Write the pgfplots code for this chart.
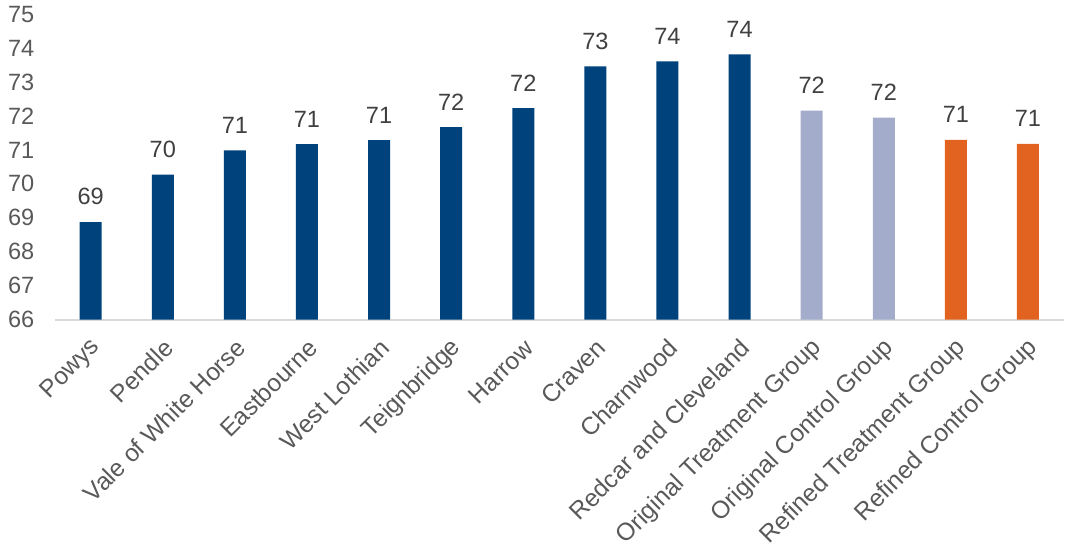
\documentclass[border=0pt]{standalone}
\usepackage{fontspec}
\setmainfont{Liberation Sans}
\usepackage{pgfplots}
\pgfplotsset{compat=1.18}
\definecolor{dblue}{HTML}{00427B}
\definecolor{lpurp}{HTML}{A3ADCB}
\definecolor{orng}{HTML}{E2621F}
\definecolor{tickc}{HTML}{595959}
\definecolor{labc}{HTML}{404040}
\definecolor{axc}{HTML}{D9D9D9}
\begin{document}
\begin{tikzpicture}
\begin{axis}[
  scale only axis,
  width=504bp, height=152.5bp,
  ybar, bar width=11bp,
  xmin=-0.5, xmax=13.5,
  ymin=66, ymax=75,
  ytick={66,67,...,75},
  xtick={0,...,13},
  xticklabels={Powys,Pendle,Vale of White Horse,Eastbourne,West Lothian,Teignbridge,Harrow,Craven,Charnwood,Redcar and Cleveland,Original Treatment Group,Original Control Group,Refined Treatment Group,Refined Control Group},
  xticklabel style={xshift=3bp, yshift=-12bp, rotate=45, anchor=east, font=\fontsize{12.3}{14}\selectfont, text=tickc, inner sep=0pt},
  yticklabel style={font=\fontsize{11.8}{13}\selectfont, text=tickc, inner sep=0pt, xshift=-10bp},
  /pgf/number format/assume math mode=true,
  major tick length=0pt,
  axis x line*=bottom,
  axis y line*=left,
  y axis line style={draw=none},
  x axis line style={draw=axc, line width=1pt},
  ytick style={draw=none}, xtick style={draw=none},
  nodes near coords,
  nodes near coords style={font=\fontsize{11.8}{13}\selectfont, text=labc, /pgf/number format/fixed, /pgf/number format/precision=0, yshift=5bp},
  clip=false,
]
\addplot[fill=dblue, draw=none, bar shift=0pt] coordinates {
(0,68.87) (1,70.27) (2,70.99) (3,71.17) (4,71.29) (5,71.67) (6,72.23) (7,73.46) (8,73.61) (9,73.82)};
\addplot[fill=lpurp, draw=none, bar shift=0pt] coordinates {
(10,72.16) (11,71.95)};
\addplot[fill=orng, draw=none, bar shift=0pt] coordinates {
(12,71.30) (13,71.18)};
\end{axis}
\path ([yshift=3bp]current bounding box.north) ([xshift=-4bp]current bounding box.west);
\end{tikzpicture}
\end{document}
